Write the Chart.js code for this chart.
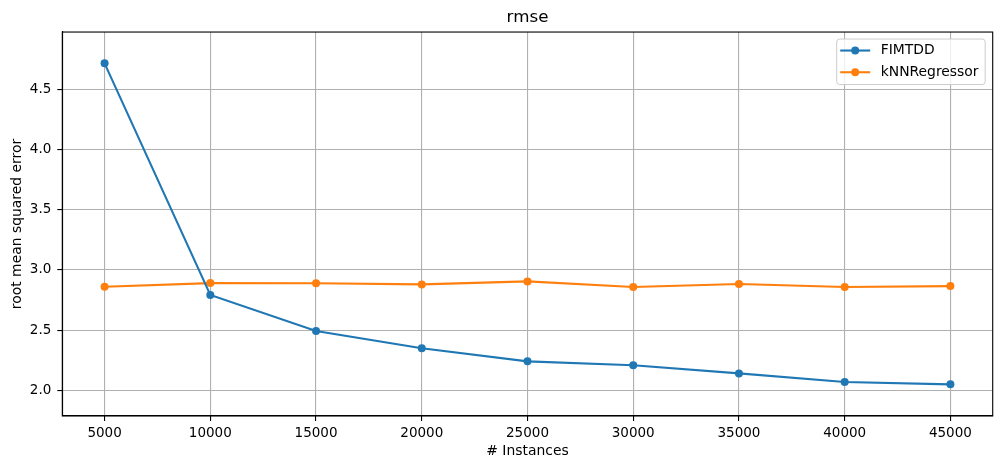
<!DOCTYPE html>
<html>
<head>
<meta charset="utf-8">
<script src="https://cdn.jsdelivr.net/npm/chart.js@4.4.0/dist/chart.umd.min.js"></script>
<style>
html,body{margin:0;padding:0;background:#fff;}
#wrap{width:1001px;height:469px;position:relative;}
</style>
</head>
<body>
<div id="wrap"><canvas id="c"></canvas></div>
<script>
const instances = [5000, 10000, 15000, 20000, 25000, 30000, 35000, 40000, 45000];
const fimtdd = [4.716, 2.792, 2.493, 2.349, 2.241, 2.208, 2.141, 2.069, 2.050];
const knn = [2.860, 2.891, 2.889, 2.880, 2.905, 2.858, 2.883, 2.858, 2.866];
const xTicks = [5000, 10000, 15000, 20000, 25000, 30000, 35000, 40000, 45000];
const yTicks = [2.0, 2.5, 3.0, 3.5, 4.0, 4.5];
const seriesNames = ['FIMTDD', 'kNNRegressor'];
const seriesColors = ['#1f77b4', '#ff7f0e'];
const chartTitle = 'rmse';
const xTitle = '# Instances';
const yTitle = 'root mean squared error';

const FONT = 'DejaVu Sans';

const frame = {
  id: 'frame',
  afterDatasetsDraw(chart) {
    const a = chart.chartArea, ctx = chart.ctx;
    ctx.save();
    ctx.strokeStyle = '#000';
    ctx.lineWidth = 1.1;
    ctx.strokeRect(a.left, a.top, a.right - a.left, a.bottom - a.top);
    ctx.restore();
  }
};

const mplLegend = {
  id: 'mplLegend',
  afterDraw(chart) {
    const ctx = chart.ctx, a = chart.chartArea;
    const x0 = a.right - 156, y0 = a.top + 7, w = 148.5, h = 45.5;
    ctx.save();
    ctx.beginPath();
    if (ctx.roundRect) ctx.roundRect(x0, y0, w, h, 3); else ctx.rect(x0, y0, w, h);
    ctx.fillStyle = 'rgba(255,255,255,0.8)';
    ctx.fill();
    ctx.strokeStyle = '#cccccc';
    ctx.lineWidth = 1;
    ctx.stroke();
    ctx.font = '13.9px "' + FONT + '"';
    ctx.textBaseline = 'middle';
    ctx.textAlign = 'left';
    chart.data.datasets.forEach((ds, i) => {
      const yy = y0 + 11.5 + i * 21.7;
      ctx.strokeStyle = ds.borderColor;
      ctx.lineWidth = 2.1;
      ctx.beginPath();
      ctx.moveTo(x0 + 3.5, yy);
      ctx.lineTo(x0 + 33.5, yy);
      ctx.stroke();
      ctx.fillStyle = ds.borderColor;
      ctx.beginPath();
      ctx.arc(x0 + 18.5, yy, 4, 0, Math.PI * 2);
      ctx.fill();
      ctx.fillStyle = '#000';
      ctx.fillText(ds.label, x0 + 44, yy);
    });
    ctx.restore();
  }
};

const makeData = (vals) => instances.map((x, i) => ({x: x, y: vals[i]}));

new Chart(document.getElementById('c'), {
  type: 'line',
  data: {
    datasets: [
      {label: seriesNames[0], data: makeData(fimtdd), borderColor: seriesColors[0], backgroundColor: seriesColors[0],
       borderWidth: 2.1, pointRadius: 4, pointBorderWidth: 0, pointBackgroundColor: seriesColors[0], tension: 0, fill: false},
      {label: seriesNames[1], data: makeData(knn), borderColor: seriesColors[1], backgroundColor: seriesColors[1],
       borderWidth: 2.1, pointRadius: 4, pointBorderWidth: 0, pointBackgroundColor: seriesColors[1], tension: 0, fill: false}
    ]
  },
  options: {
    responsive: true,
    maintainAspectRatio: false,
    animation: false,
    devicePixelRatio: 1,
    layout: {padding: {left: 0, right: 8.3, top: 0, bottom: 0}},
    plugins: {
      legend: {display: false},
      tooltip: {enabled: false},
      title: {
        display: true, text: chartTitle, color: '#000', fullSize: false,
        font: {family: FONT, size: 16.7, weight: 'normal', lineHeight: 1.2},
        padding: {top: 7.7, bottom: 4.3}
      }
    },
    scales: {
      x: {
        type: 'linear', min: 3000, max: 47000,
        afterBuildTicks: (s) => { s.ticks = xTicks.map(v => ({value: v})); },
        afterFit: (s) => { s.height = 53; },
        ticks: {color: '#000', font: {family: FONT, size: 13.5}, padding: 4, maxRotation: 0, autoSkip: false,
                callback: (v) => String(v)},
        grid: {color: '#b0b0b0', lineWidth: 1.1, tickColor: '#000', tickLength: 5, tickWidth: 1.1},
        border: {display: true, color: '#000', width: 1.1},
        title: {display: true, text: xTitle, color: '#000', font: {family: FONT, size: 13.9, lineHeight: 1.2},
                padding: {top: 0, bottom: 9.7}}
      },
      y: {
        type: 'linear', min: 1.787, max: 4.976,
        afterBuildTicks: (s) => { s.ticks = yTicks.map(v => ({value: v})); },
        afterFit: (s) => { s.width = 62.3; },
        ticks: {color: '#000', font: {family: FONT, size: 13.5}, padding: 6,
                callback: (v) => Number(v).toFixed(1)},
        grid: {color: '#b0b0b0', lineWidth: 1.1, tickColor: '#000', tickLength: 5, tickWidth: 1.1},
        border: {display: true, color: '#000', width: 1.1},
        title: {display: true, text: yTitle, color: '#000', font: {family: FONT, size: 13.9, lineHeight: 1.2},
                padding: {top: 8.7, bottom: 0}}
      }
    }
  },
  plugins: [frame, mplLegend]
});
</script>
</body>
</html>
